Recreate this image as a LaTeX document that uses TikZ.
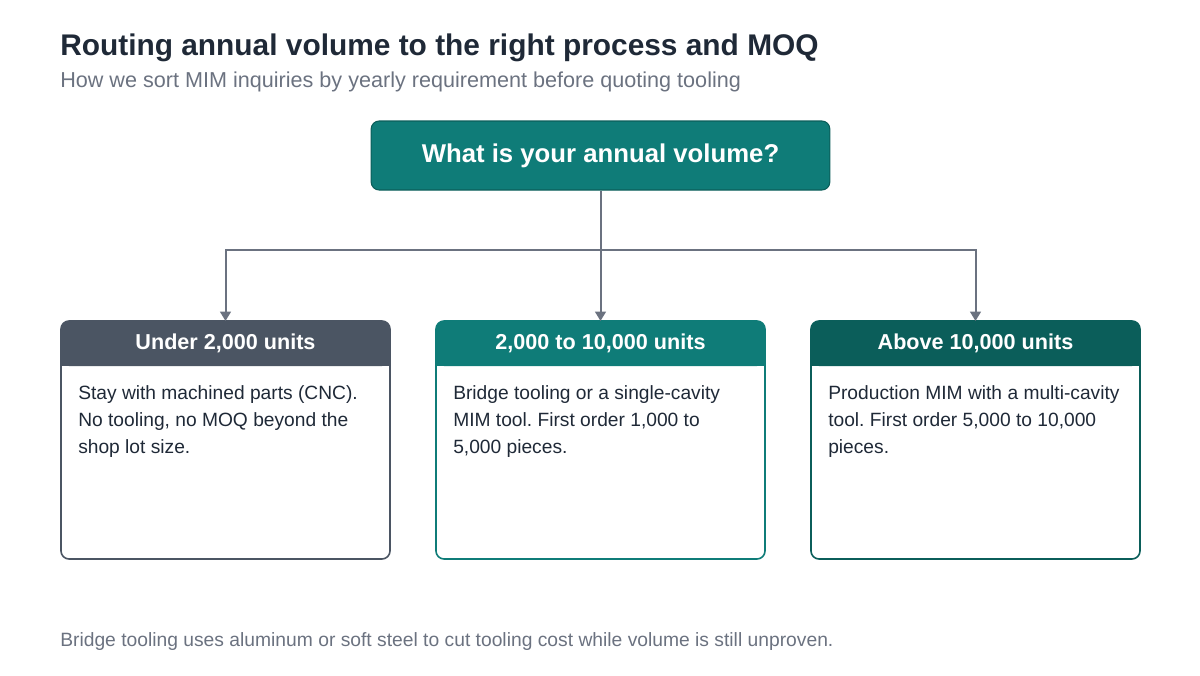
\documentclass[tikz,border=0pt]{standalone}
\usepackage{fontspec}
\setmainfont{Liberation Sans}
\frenchspacing
\usetikzlibrary{positioning,arrows.meta}
\definecolor{ink}{HTML}{1F2937}
\definecolor{muted}{HTML}{6B7280}
\definecolor{slate}{HTML}{4B5563}
\definecolor{teal}{HTML}{0F7C78}
\definecolor{deepteal}{HTML}{0B5E5A}
\definecolor{wire}{HTML}{6B7280}
\tikzset{
  px/.style={x=0.75pt,y=-0.75pt},
  question/.style={draw=deepteal,fill=teal,rounded corners=6pt,line width=0.8pt,
    minimum width=344pt,minimum height=51.75pt,text=white,font=\bfseries\fontsize{19.3}{23}\selectfont},
  card/.style={draw=#1,rounded corners=6pt,line width=1.2pt,fill=white},
  cardhead/.style={fill=#1,rounded corners=6pt},
  headtext/.style={text=white,font=\bfseries\fontsize{16.2}{19}\selectfont},
  bodytext/.style={text=ink,anchor=north west,align=left,font=\fontsize{14.4}{20.25}\selectfont,inner sep=0pt},
  link/.style={draw=wire,line width=1.5pt,-{Triangle[length=7pt,width=8pt]}}
}
\begin{document}
\begin{tikzpicture}[px]
\useasboundingbox (0,0) rectangle (1200,675);
% heading
\node[anchor=base west,inner sep=0pt,text=ink,font=\bfseries\fontsize{22.4}{26}\selectfont] (title) at (60,55) {Routing annual volume to the right process and MOQ};
\node[anchor=base west,inner sep=0pt,text=muted,font=\fontsize{16.2}{19}\selectfont] (subtitle) at (60,87) {How we sort MIM inquiries by yearly requirement before quoting tooling};
% question
\node[question] (q) at (600.5,155.5) {What is your annual volume?};
\coordinate (split) at (600,250);
% cards
\foreach \name/\cx/\col/\head [count=\i] in {low/225.5/slate/{Under 2,000 units},mid/600.5/teal/{2,000 to 10,000 units},high/975.5/deepteal/{Above 10,000 units}}{
  \fill[cardhead=\col] (\cx-164.5,321) rectangle (\cx+164.5,366);
  \fill[\col] (\cx-164.5,350) rectangle (\cx+164.5,366);
  \draw[card=\col,fill=none] (\cx-164.5,321) rectangle (\cx+164.5,559);
  \node[headtext] (\name head) at (\cx,343) {\head};
  \coordinate (\name top) at (\cx,321);
}
\node[bodytext] (lowbody) at (78,385) {Stay with machined parts (CNC).\\No tooling, no MOQ beyond the\\shop lot size.};
\node[bodytext] (midbody) at (453,385) {Bridge tooling or a single-cavity\\MIM tool. First order 1,000 to\\5,000 pieces.};
\node[bodytext] (highbody) at (828,385) {Production MIM with a multi-cavity\\tool. First order 5,000 to 10,000\\pieces.};
% connectors
\draw[link] (q.south) -- (midtop);
\draw[link] (split) -| (lowtop);
\draw[link] (split) -| (hightop);
% note
\node[anchor=base west,inner sep=0pt,text=muted,font=\fontsize{14.45}{17}\selectfont] (note) at (60,646) {Bridge tooling uses aluminum or soft steel to cut tooling cost while volume is still unproven.};
\end{tikzpicture}
\end{document}
